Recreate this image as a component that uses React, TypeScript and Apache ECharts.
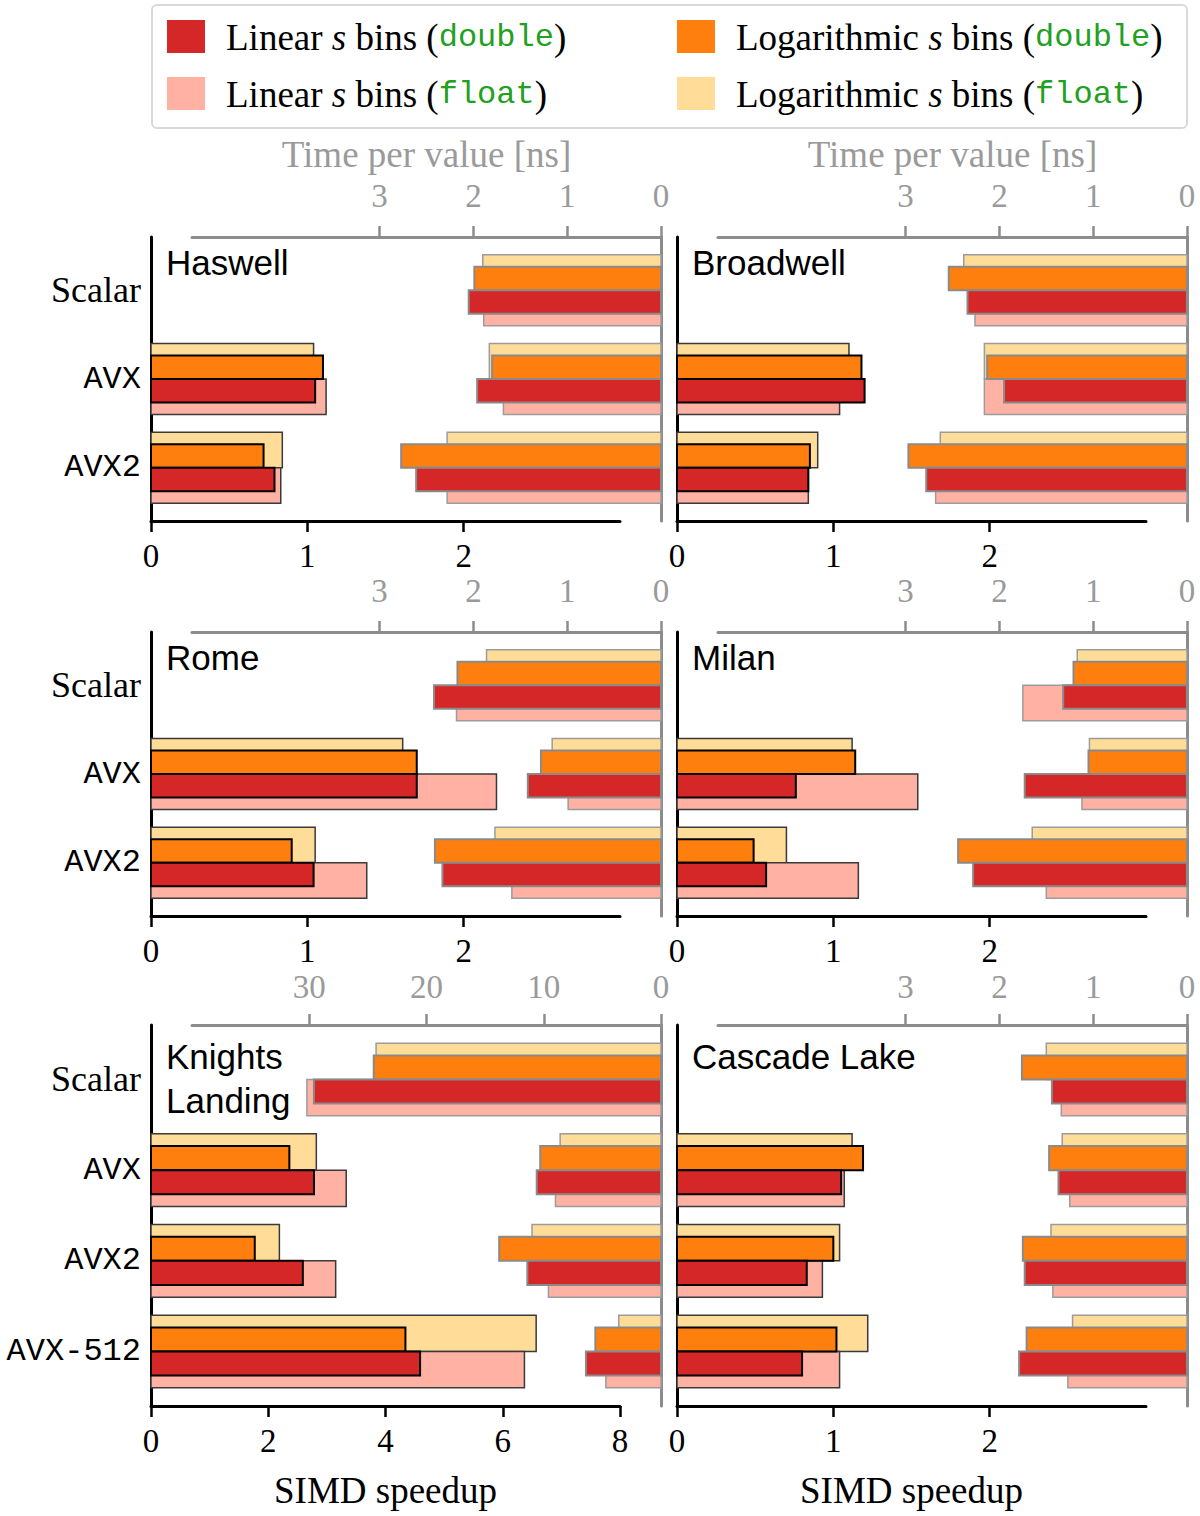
import { useEffect, useRef } from 'react';
import * as echarts from 'echarts';

const shortCategories = ['Scalar', 'AVX', 'AVX2'];
const longCategories = ['Scalar', 'AVX', 'AVX2', 'AVX-512'];

// every row: [linear double, linear float, logarithmic double, logarithmic float]
const haswellTime = [
  [2.05, 1.89, 1.99, 1.9],
  [1.96, 1.68, 1.8, 1.83],
  [2.61, 2.28, 2.77, 2.28],
];
const haswellSpeedup = [
  [1.05, 1.12, 1.1, 1.04],
  [0.79, 0.83, 0.72, 0.84],
];

const broadwellTime = [
  [2.34, 2.26, 2.54, 2.38],
  [1.95, 2.16, 2.13, 2.16],
  [2.78, 2.68, 2.97, 2.63],
];
const broadwellSpeedup = [
  [1.2, 1.04, 1.18, 1.1],
  [0.84, 0.84, 0.85, 0.9],
];

const romeTime = [
  [2.42, 2.18, 2.17, 1.86],
  [1.42, 0.99, 1.28, 1.16],
  [2.33, 1.59, 2.41, 1.77],
];
const romeSpeedup = [
  [1.7, 2.21, 1.7, 1.61],
  [1.04, 1.38, 0.9, 1.05],
];

const milanTime = [
  [1.32, 1.75, 1.21, 1.17],
  [1.73, 1.12, 1.05, 1.04],
  [2.28, 1.5, 2.44, 1.65],
];
const milanSpeedup = [
  [0.76, 1.54, 1.14, 1.12],
  [0.57, 1.16, 0.49, 0.7],
];

const knlTime = [
  [29.6, 30.2, 24.5, 24.3],
  [10.6, 9.0, 10.3, 8.6],
  [11.4, 9.6, 13.8, 11.0],
  [6.4, 4.7, 5.6, 3.6],
];
const knlSpeedup = [
  [2.78, 3.33, 2.36, 2.82],
  [2.59, 3.15, 1.77, 2.19],
  [4.59, 6.37, 4.34, 6.57],
];

const cascadeTime = [
  [1.44, 1.34, 1.76, 1.5],
  [1.37, 1.25, 1.47, 1.33],
  [1.73, 1.43, 1.75, 1.45],
  [1.79, 1.27, 1.71, 1.22],
];
const cascadeSpeedup = [
  [1.05, 1.07, 1.19, 1.12],
  [0.83, 0.93, 1.0, 1.04],
  [0.8, 1.04, 1.02, 1.22],
];

const timeTicks = [0, 1, 2, 3];
const timeTicksKnl = [0, 10, 20, 30];
const speedupTicks = [0, 1, 2];
const speedupTicksKnl = [0, 2, 4, 6, 8];

const seriesNames = [
  'Linear s bins (double)',
  'Linear s bins (float)',
  'Logarithmic s bins (double)',
  'Logarithmic s bins (float)',
];
const colors = ['#d62728', '#ffb1a4', '#ff7f0e', '#ffdc98'];
// float bars are drawn first, the double ones on top of them
const drawOrder = [3, 1, 2, 0];
const isFloat = [false, true, false, true];
const goesUp = [false, false, true, true];

const panels = [
  { title: 'Haswell', col: 0, row: 0, cats: shortCategories, time: haswellTime, speedup: haswellSpeedup, timeMax: 5, tTicks: timeTicks, speedMax: 3, sTicks: speedupTicks },
  { title: 'Broadwell', col: 1, row: 0, cats: shortCategories, time: broadwellTime, speedup: broadwellSpeedup, timeMax: 5, tTicks: timeTicks, speedMax: 3, sTicks: speedupTicks },
  { title: 'Rome', col: 0, row: 1, cats: shortCategories, time: romeTime, speedup: romeSpeedup, timeMax: 5, tTicks: timeTicks, speedMax: 3, sTicks: speedupTicks },
  { title: 'Milan', col: 1, row: 1, cats: shortCategories, time: milanTime, speedup: milanSpeedup, timeMax: 5, tTicks: timeTicks, speedMax: 3, sTicks: speedupTicks },
  { title: 'Knights\nLanding', col: 0, row: 2, cats: longCategories, time: knlTime, speedup: knlSpeedup, timeMax: 40, tTicks: timeTicksKnl, speedMax: 8, sTicks: speedupTicksKnl },
  { title: 'Cascade Lake', col: 1, row: 2, cats: longCategories, time: cascadeTime, speedup: cascadeSpeedup, timeMax: 5, tTicks: timeTicks, speedMax: 3, sTicks: speedupTicks },
];

const colLeft = [151, 677];
const rowTop = [237, 632, 1025];
const rowHeight = [284, 284, 381];
const titleOffset = [3, 3, 9];
const timeLabelMargin = [25, 25, 22];
const axisWidth = 469;
const timeShift = 41;

const SERIF = 'Liberation Serif';
const MONO = 'Liberation Mono';
const SANS = 'Liberation Sans';
const GREY = '#8c8c8c';
const GREY_TEXT = '#9a9a9a';

function makeBar(kind: number, onTime: boolean) {
  const depth = isFloat[kind] ? 0.4 : 0.265;
  const sign = goesUp[kind] ? -1 : 1;
  let stroke = '#000';
  let lineWidth = 2;
  if (onTime) {
    stroke = isFloat[kind] ? '#9c9c9c' : '#8a8a8a';
    lineWidth = isFloat[kind] ? 1.5 : 2;
  } else if (isFloat[kind]) {
    stroke = '#3a3a3a';
    lineWidth = 1.5;
  }
  return (_params: any, api: any) => {
    const v = api.value(0);
    const c = api.value(1);
    const p0 = api.coord([0, c]);
    const p1 = api.coord([v, c]);
    const pe = api.coord([0, c + sign * depth]);
    return {
      type: 'rect',
      shape: {
        x: Math.min(p0[0], p1[0]),
        y: Math.min(p0[1], pe[1]),
        width: Math.abs(p1[0] - p0[0]),
        height: Math.abs(pe[1] - p0[1]),
      },
      style: { fill: colors[kind], stroke, lineWidth },
    };
  };
}

function buildOption(): any {
  const grid: any[] = [];
  const xAxis: any[] = [];
  const yAxis: any[] = [];
  const series: any[] = [];

  panels.forEach((p, i) => {
    const left = colLeft[p.col];
    const top = rowTop[p.row];
    const height = rowHeight[p.row];
    const yMax = p.cats.length - 0.4;

    grid.push({ left, top, width: axisWidth, height });
    grid.push({ left: left + timeShift, top, width: axisWidth, height });

    xAxis.push({
      gridIndex: 2 * i,
      type: 'value',
      position: 'bottom',
      min: 0,
      max: p.speedMax,
      name: p.row === 2 ? 'SIMD speedup' : '',
      nameLocation: 'middle',
      nameGap: 66,
      nameTextStyle: { fontFamily: SERIF, fontSize: 37, color: '#000' },
      axisLine: { onZero: false, lineStyle: { color: '#000', width: 3 } },
      axisTick: { customValues: p.sTicks, length: 11, lineStyle: { color: '#000', width: 2.5 } },
      axisLabel: { customValues: p.sTicks, margin: 18, fontFamily: SERIF, fontSize: 33, color: '#000' },
      splitLine: { show: false },
    });
    xAxis.push({
      gridIndex: 2 * i + 1,
      type: 'value',
      position: 'top',
      inverse: true,
      min: 0,
      max: p.timeMax,
      name: p.row === 0 ? 'Time per value [ns]' : '',
      nameLocation: 'middle',
      nameGap: 64,
      nameTextStyle: { fontFamily: SERIF, fontSize: 37, color: GREY_TEXT },
      axisLine: { onZero: false, lineStyle: { color: GREY, width: 3 } },
      axisTick: { customValues: p.tTicks, length: 11, lineStyle: { color: GREY, width: 2.5 } },
      axisLabel: {
        customValues: p.tTicks,
        margin: timeLabelMargin[p.row],
        fontFamily: SERIF,
        fontSize: 33,
        color: GREY_TEXT,
      },
      splitLine: { show: false },
    });

    yAxis.push({
      gridIndex: 2 * i,
      type: 'value',
      min: -0.6,
      max: yMax,
      inverse: true,
      axisLine: { onZero: false, lineStyle: { color: '#000', width: 3 } },
      axisTick: { show: false },
      axisLabel: {
        // only the left column carries the category names
        show: p.col === 0,
        customValues: p.cats.map((_c, k) => k),
        margin: 10,
        formatter: (v: number) => {
          const name = p.cats[Math.round(v)];
          return name === 'Scalar' ? `{s|${name}}` : `{m|${name}}`;
        },
        rich: {
          s: { fontFamily: SERIF, fontSize: 36, color: '#000' },
          m: { fontFamily: MONO, fontSize: 32, color: '#000' },
        },
      },
      splitLine: { show: false },
    });
    yAxis.push({
      gridIndex: 2 * i + 1,
      type: 'value',
      position: 'right',
      min: -0.6,
      max: yMax,
      inverse: true,
      axisLine: { onZero: false, lineStyle: { color: GREY, width: 3 } },
      axisTick: { show: false },
      axisLabel: { show: false },
      splitLine: { show: false },
    });

    drawOrder.forEach((k) => {
      series.push({
        type: 'custom',
        name: seriesNames[k],
        xAxisIndex: 2 * i + 1,
        yAxisIndex: 2 * i + 1,
        itemStyle: { color: colors[k] },
        data: p.time.map((row, j) => [row[k], j]),
        renderItem: makeBar(k, true),
      });
    });
    drawOrder.forEach((k) => {
      series.push({
        type: 'custom',
        name: seriesNames[k],
        xAxisIndex: 2 * i,
        yAxisIndex: 2 * i,
        itemStyle: { color: colors[k] },
        data: p.speedup.map((row, j) => [row[k], j + 1]),
        renderItem: makeBar(k, false),
      });
    });
  });

  const title = panels.map((p) => ({
    text: p.title,
    left: colLeft[p.col] + 15,
    top: rowTop[p.row] + titleOffset[p.row],
    padding: 0,
    textStyle: { fontFamily: SANS, fontSize: 35, fontWeight: 'normal', color: '#000', lineHeight: 44 },
  }));

  const legendRich = {
    t: { fontFamily: SERIF, fontSize: 37, fill: '#000' },
    i: { fontFamily: SERIF, fontSize: 37, fontStyle: 'italic', fill: '#000' },
    m: { fontFamily: MONO, fontSize: 32, fill: '#22a022' },
  };
  const legendSlots = [
    { x: 167, y: 20 },
    { x: 167, y: 77 },
    { x: 677, y: 20 },
    { x: 677, y: 77 },
  ];
  const legendItems: any[] = [];
  seriesNames.forEach((_n, k) => {
    const slot = legendSlots[k];
    const first = k < 2 ? 'Linear ' : 'Logarithmic ';
    const prec = isFloat[k] ? 'float' : 'double';
    legendItems.push({
      type: 'rect',
      shape: { x: slot.x, y: slot.y, width: 38, height: 33 },
      style: { fill: colors[k] },
    });
    legendItems.push({
      type: 'text',
      x: slot.x + 59,
      y: slot.y + 17,
      style: {
        text: `{t|${first}}{i|s}{t| bins (}{m|${prec}}{t|)}`,
        rich: legendRich,
        verticalAlign: 'middle',
      },
    });
  });

  return {
    animation: false,
    backgroundColor: '#fff',
    title,
    grid,
    xAxis,
    yAxis,
    series,
    graphic: [
      {
        type: 'rect',
        shape: { x: 152, y: 5, width: 1035, height: 123, r: 5 },
        style: { fill: '#fff', stroke: '#d9d9d9', lineWidth: 2 },
      },
      ...legendItems,
    ],
  };
}

export default function App() {
  const chartRef = useRef<HTMLDivElement>(null);

  useEffect(() => {
    if (!chartRef.current) return;
    const chart = echarts.init(chartRef.current, null, { renderer: 'svg' });
    chart.setOption(buildOption());
    return () => {
      chart.dispose();
    };
  }, []);

  return (
    <div
      ref={chartRef}
      style={{ position: 'absolute', left: 0, top: 0, width: 1200, height: 1516 }}
    />
  );
}
